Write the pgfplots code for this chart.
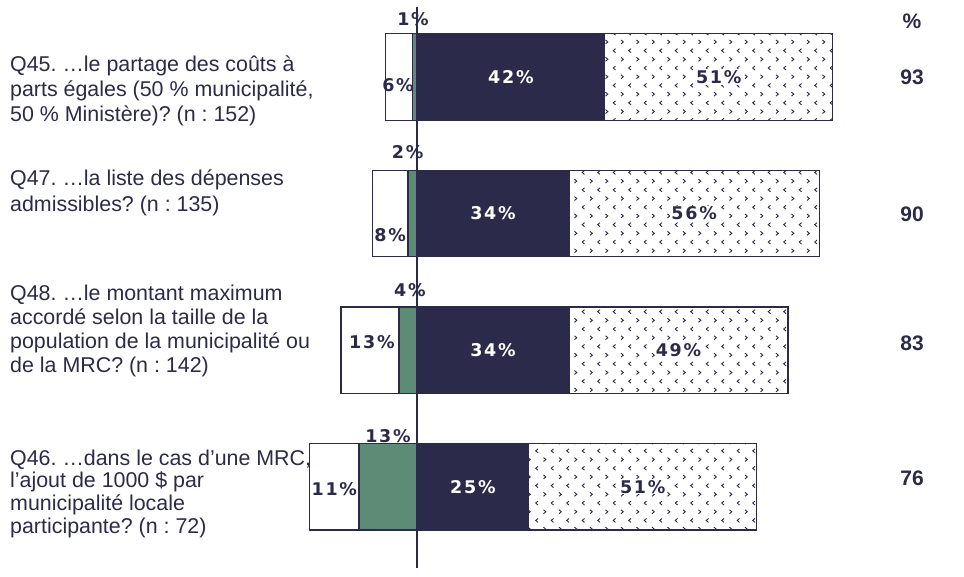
\documentclass[border=0pt]{standalone}
\usepackage{fontspec}
\setmainfont{Liberation Sans}
\newfontfamily\barfont[LetterSpace=10]{DejaVu Sans}
\usepackage{pgfplots}
\usepackage{pgfplotstable}
\pgfplotsset{compat=1.18}
\usetikzlibrary{patterns}
\frenchspacing

\definecolor{navy}{HTML}{2C2A4A}
\definecolor{sage}{HTML}{5E8B76}

% alternating rows of > and < chevrons for the "tout à fait" segment
\pgfdeclarepatternformonly{chevrons}{\pgfqpoint{-1pt}{-1pt}}{\pgfqpoint{16.5pt}{18.4pt}}{\pgfqpoint{15.5pt}{17.4pt}}{%
  \pgfsetlinewidth{0.9pt}%
  \pgfpathmoveto{\pgfqpoint{1pt}{15pt}}%
  \pgfpathlineto{\pgfqpoint{3.3pt}{13.05pt}}%
  \pgfpathlineto{\pgfqpoint{1pt}{11.1pt}}%
  \pgfpathmoveto{\pgfqpoint{11pt}{6.3pt}}%
  \pgfpathlineto{\pgfqpoint{8.7pt}{4.35pt}}%
  \pgfpathlineto{\pgfqpoint{11pt}{2.4pt}}%
  \pgfusepath{stroke}%
}

% one row per question, top to bottom: Q45, Q47, Q48, Q46
\pgfplotstableread{
pos  white green dark dotted
0      6     1    42   51
-1     8     2    34   56
-2    13     4    34   49
-3    11    13    25   51
}\survey

\newcommand\lblfont{\barfont\bfseries\fontsize{17.5}{20}\selectfont}
\newcommand\qfont{\fontsize{21.4}{25}\selectfont}
\newcommand\totfont{\bfseries\fontsize{21}{25}\selectfont}

\tikzset{
  vlab/.style={font=\lblfont, inner sep=1pt},
  qtext/.style={anchor=base west, inner sep=0pt, font=\qfont, text=navy},
  tot/.style={anchor=base, inner sep=0pt, font=\totfont, text=navy},
}
\pgfplotsset{
  panel/.style={
    scale only axis, width=558.75pt, height=561pt,
    at={(305.25pt,-568pt)}, anchor=south west,
    xmin=-25, xmax=100, ymin=-3.595, ymax=0.512,
    hide axis, clip=false,
    xbar stacked, bar width=86.5pt,
  },
  segment/.style={draw=navy, line width=1.3pt},
}

\begin{document}
\begin{tikzpicture}
% right-hand side: "plutôt" and "tout à fait"
\begin{axis}[panel]
  \addplot[segment, fill=navy] table[x=dark, y=pos] {\survey};
  \addplot[segment, pattern=chevrons, pattern color=navy] table[x=dotted, y=pos] {\survey};
\end{axis}

% left-hand side: "plutôt pas" then "pas du tout"
\begin{axis}[panel]
  \addplot[segment, fill=sage] table[x expr=-\thisrow{green}, y=pos] {\survey};
  \addplot[segment, fill=white] table[x expr=-\thisrow{white}, y=pos] {\survey};
\end{axis}

% zero line and value labels on top of the bars
\begin{axis}[panel]
  \draw[navy, line width=1.8pt] (axis cs:0,0.512) -- (axis cs:0,-3.595);
  \node[vlab, text=white] at (axis cs:21,0) {42\%};
  \node[vlab, text=white] at (axis cs:17,-1) {34\%};
  \node[vlab, text=white] at (axis cs:17,-2) {34\%};
  \node[vlab, text=white] at (axis cs:12.5,-3) {25\%};
  \node[vlab, text=navy, fill=white] at (axis cs:67.5,0) {51\%};
  \node[vlab, text=navy, fill=white] at (axis cs:62,-1) {56\%};
  \node[vlab, text=navy, fill=white] at (axis cs:58.5,-2) {49\%};
  \node[vlab, text=navy, fill=white] at (axis cs:50.5,-3) {51\%};
  \node[vlab, text=navy] at (axis cs:-0.9,0.42) {1\%};
  \node[vlab, text=navy] at (axis cs:-4.25,-0.059) {6\%};
  \node[vlab, text=navy] at (axis cs:-2.1,-0.554) {2\%};
  \node[vlab, text=navy] at (axis cs:-6,-1.157) {8\%};
  \node[vlab, text=navy] at (axis cs:-1.6,-1.564) {4\%};
  \node[vlab, text=navy] at (axis cs:-10.1,-1.938) {13\%};
  \node[vlab, text=navy] at (axis cs:-6.5,-2.633) {13\%};
  \node[vlab, text=navy] at (axis cs:-18.5,-3.016) {11\%};
\end{axis}

% question texts
\node[qtext] at (10pt,-71.7pt) {Q45. …le partage des coûts à};
\node[qtext] at (10pt,-96.7pt) {parts égales (50 \% municipalité,};
\node[qtext] at (10pt,-121.7pt) {50 \% Ministère)? (n : 152)};
\node[qtext] at (10pt,-186pt) {Q47. …la liste des dépenses};
\node[qtext] at (10pt,-211.7pt) {admissibles? (n : 135)};
\node[qtext] at (10pt,-300.7pt) {Q48. …le montant maximum};
\node[qtext] at (10pt,-324.7pt) {accordé selon la taille de la};
\node[qtext] at (10pt,-348.7pt) {population de la municipalité ou};
\node[qtext] at (10pt,-372.7pt) {de la MRC? (n : 142)};
\node[qtext] at (10pt,-465pt) {Q46. …dans le cas d’une MRC,};
\node[qtext] at (10pt,-487.7pt) {l’ajout de 1000 \$ par};
\node[qtext] at (10pt,-510.3pt) {municipalité locale};
\node[qtext] at (10pt,-533pt) {participante? (n : 72)};

% totals column
\node[tot] at (912pt,-29pt) {\%};
\node[tot] at (912pt,-85pt) {93};
\node[tot] at (912pt,-222pt) {90};
\node[tot] at (912pt,-350.5pt) {83};
\node[tot] at (912pt,-485.5pt) {76};

\path[use as bounding box] (0,0) rectangle (964pt,-577pt);
\end{tikzpicture}
\end{document}
